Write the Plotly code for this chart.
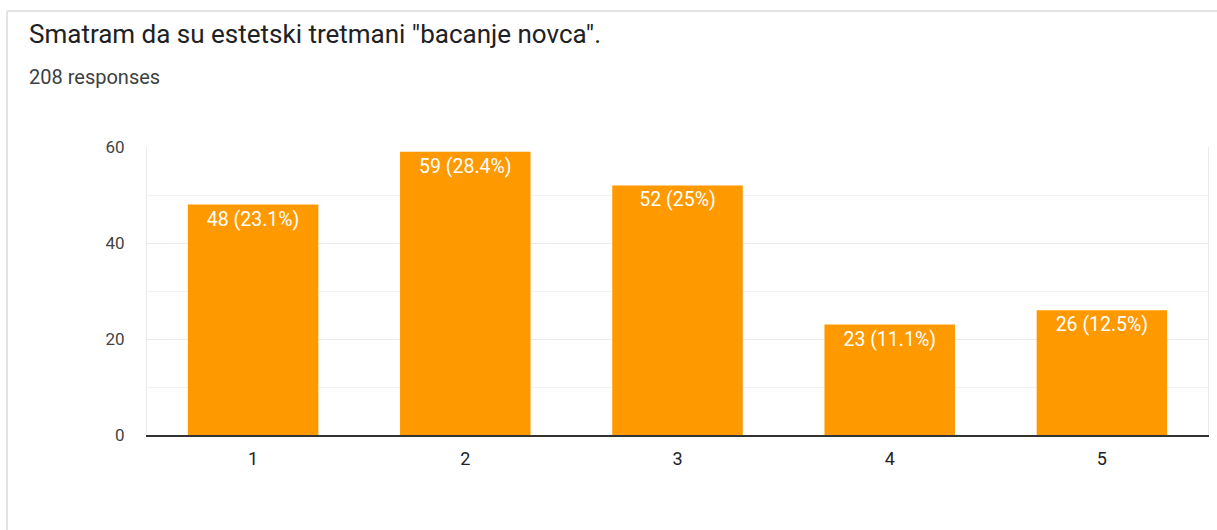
import plotly.graph_objects as go

categories = ["1", "2", "3", "4", "5"]
values = [48, 59, 52, 23, 26]
percent_labels = ["23.1%", "28.4%", "25%", "11.1%", "12.5%"]
y_ticks = [0, 20, 40, 60]
title_text = 'Smatram da su estetski tretmani "bacanje novca".'
subtitle_text = "208 responses"

W, H = 1217, 530
L, R, T, B = 147, 1208, 147, 435


def px_x(x):
    return (x - L) / (R - L)


def px_y(y):
    return (B - y) / (B - T)


labels = [f"{v} ({p})" for v, p in zip(values, percent_labels)]

fig = go.Figure(
    go.Bar(
        x=categories,
        y=values,
        text=labels,
        textposition="inside",
        insidetextanchor="end",
        textfont=dict(color="white", size=19.5, family="Roboto"),
        marker=dict(color="#ff9900", line=dict(width=0)),
        hoverinfo="skip",
    )
)

fig.update_layout(
    width=W,
    height=H,
    margin=dict(l=L, r=W - R, t=T, b=H - B, pad=0),
    plot_bgcolor="white",
    paper_bgcolor="white",
    bargap=0.385,
    showlegend=False,
    font=dict(family="Roboto", color="#444444"),
    uniformtext=dict(mode="show", minsize=19),
)

fig.update_yaxes(
    range=[0, 60],
    tickvals=y_ticks,
    showgrid=True,
    gridcolor="#ebebeb",
    gridwidth=1,
    minor=dict(dtick=10, showgrid=True, gridcolor="#f3f3f3", gridwidth=1),
    showline=True,
    mirror=True,
    linecolor="#ebebeb",
    linewidth=1,
    zeroline=False,
    ticks="",
    tickfont=dict(size=17, color="#444444", family="Roboto"),
    ticklabelstandoff=18,
    fixedrange=True,
)
fig.update_xaxes(
    showline=True,
    linecolor="#333333",
    linewidth=1.5,
    showgrid=False,
    ticks="",
    tickfont=dict(size=18, color="#222222", family="Roboto"),
    ticklabelstandoff=7,
    fixedrange=True,
)

# card border (top and left)
fig.add_shape(type="line", xref="paper", yref="paper",
              x0=px_x(7), x1=px_x(W + 5), y0=px_y(11), y1=px_y(11),
              line=dict(color="#e3e3e3", width=2))
fig.add_shape(type="line", xref="paper", yref="paper",
              x0=px_x(7), x1=px_x(7), y0=px_y(11), y1=px_y(H + 5),
              line=dict(color="#e3e3e3", width=2))

fig.add_annotation(text=title_text, xref="paper", yref="paper",
                   x=px_x(27), y=px_y(34), xanchor="left", yanchor="middle",
                   showarrow=False,
                   font=dict(size=26, color="#202124", family="Roboto"))
fig.add_annotation(text=subtitle_text, xref="paper", yref="paper",
                   x=px_x(27), y=px_y(77), xanchor="left", yanchor="middle",
                   showarrow=False,
                   font=dict(size=20, color="#3c4043", family="Roboto"))

fig.write_html("out.html", config={"displayModeBar": False},
               post_script="document.body.style.margin='0';")
